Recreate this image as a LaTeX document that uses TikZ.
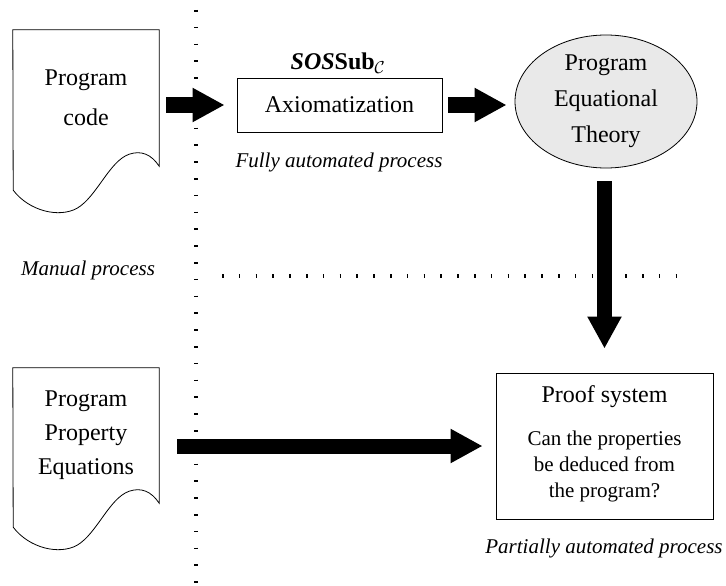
\documentclass[tikz,border=0pt]{standalone}
\usepackage{fontspec}
\setmainfont{Liberation Serif}
\usetikzlibrary{arrows.meta, positioning, shapes.geometric}
\definecolor{theorybg}{HTML}{E9E9E9}

\begin{document}
\begin{tikzpicture}[x=1pt, y=-1pt,
    doc/.style={minimum width=146pt, minimum height=136pt, inner sep=0pt, align=center, font=\fontsize{24}{40}\selectfont},
    box/.style={draw, line width=0.8pt, inner sep=0pt, align=center},
    note/.style={font=\fontsize{21}{26}\selectfont\itshape},
    bigarrow/.style={-{Triangle[length=32pt, width=32pt]}, line width=15pt},
    divider/.style={line width=4pt, dash pattern=on 1.6pt off 15.2pt}
]
\useasboundingbox (0,0) rectangle (726,586);

\node[doc] (code) at (86,98) {Program\\code};
\node[box, minimum width=205pt, minimum height=54pt, font=\fontsize{24}{29}\selectfont] (axiom) at (339.5,105) {Axiomatization};
\node[font=\fontsize{24}{29}\selectfont\bfseries] (sos) at (338,63) {\textit{SOS}Sub$_{\mathcal{C}}$};
\node[note] (fully) at (339,162) {Fully automated process};
\node[ellipse, draw, fill=theorybg, line width=0.8pt, minimum width=182pt, minimum height=133pt, inner sep=0pt, align=center, font=\fontsize{24}{36}\selectfont] (theory) at (606,101.5) {Program\\Equational\\Theory};
\node[note] (manual) at (88,270) {Manual process};
\node[doc, font=\fontsize{24}{34}\selectfont, minimum height=135pt] (props) at (86,435.5) {Program\\Property\\Equations};
\node[box, minimum width=217pt, minimum height=146pt] (proof) at (604.5,446) {};
\node[font=\fontsize{24}{29}\selectfont] (title) at (604.5,397) {Proof system};
\node[font=\fontsize{21}{26}\selectfont, align=center] (question) at (604.5,466) {Can the properties\\be deduced from\\the program?};
\node[note] (partial) at (604,548) {Partially automated process};

\foreach \d in {code, props} {
  \begin{scope}[shift={(\d.south east)}]
    \draw[line width=0.8pt] (0,0) .. controls (-8,-12) and (-18,-16) .. (-30,-12)
      .. controls (-50,-5) and (-62,30) .. (-82,42)
      .. controls (-100,52) and (-130,45) .. (-146,24)
      -- (\d.north west) -- (\d.north east) -- cycle;
  \end{scope}
}

\draw[divider] (196,10) -- (196,586);
\draw[divider] (222,276) -- (686,276);

\draw[bigarrow, shorten <=7pt, shorten >=12pt] (code.east |- axiom.west) -- (axiom.west);
\draw[bigarrow, shorten <=6pt, shorten >=8pt] (axiom.east) -- (axiom.east -| theory.west);
\draw[bigarrow, shorten <=13pt, shorten >=24pt] (proof.north |- theory.south) -- (proof.north);
\draw[bigarrow, shorten <=18pt, shorten >=13pt] (props.east |- proof.west) -- (proof.west);
\end{tikzpicture}
\end{document}
